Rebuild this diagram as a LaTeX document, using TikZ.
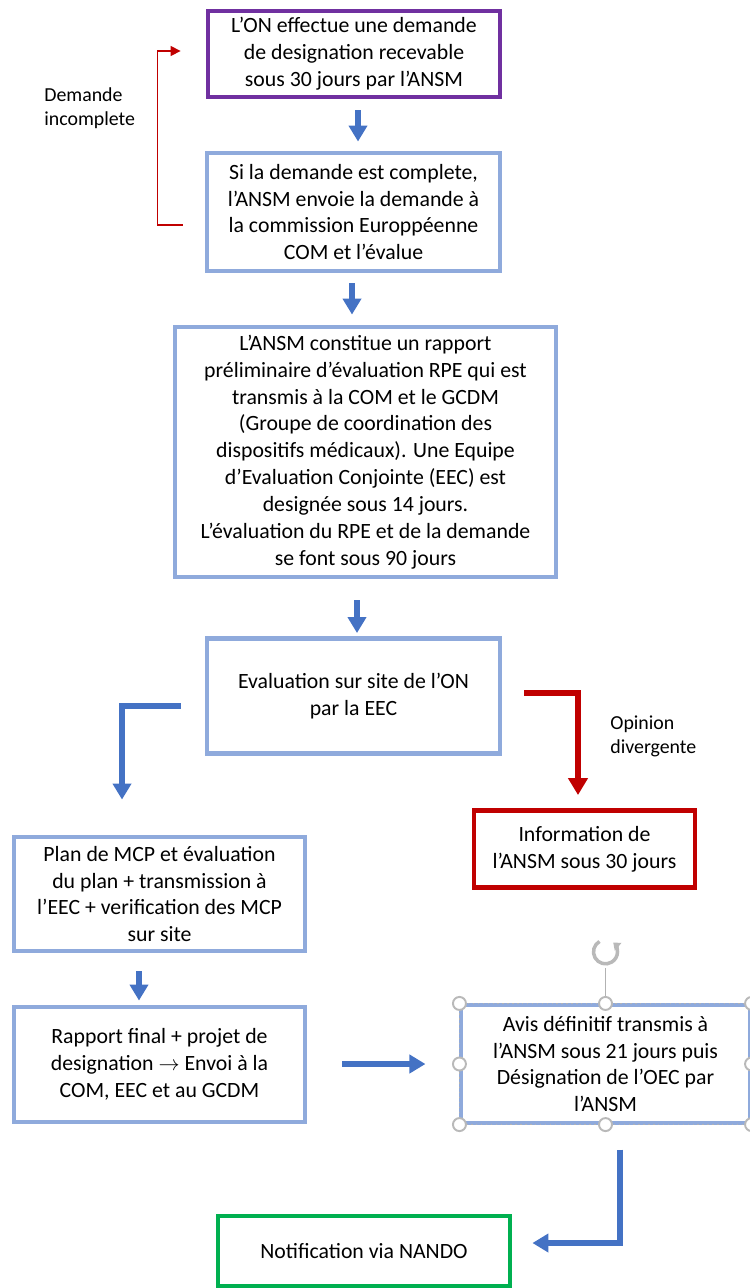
\documentclass[tikz,border=0pt]{standalone}
\usepackage{fontspec}
\setmainfont{Carlito}
\usepackage{xcolor}
\usepackage{tikz}
\usetikzlibrary{arrows.meta}

\definecolor{onpurple}{HTML}{7030A0}
\definecolor{boxblue}{HTML}{8FAADC}
\definecolor{arrowblue}{HTML}{4472C4}
\definecolor{alertred}{HTML}{C00000}
\definecolor{nandogreen}{HTML}{00B050}

\begin{document}
\begin{tikzpicture}[x=0.02cm, y=-0.02cm,
                box/.style={draw=boxblue, rectangle, line width=2.8pt, align=center, inner sep=0pt,
                    font=\fontsize{12.4}{15.3}\selectfont},
                note/.style={align=left, inner sep=0pt, font=\fontsize{11.3}{13.6}\selectfont},
                bluearrow/.style={draw=arrowblue, line width=3pt, -{Triangle[width=0.36cm,length=0.32cm]}},
                redarrow/.style={draw=alertred, line width=3.2pt, -{Triangle[width=0.38cm,length=0.34cm]}},
                handle/.style={circle, draw=gray!55, fill=white, line width=1.1pt, minimum size=0.26cm, inner sep=0pt}]
                \useasboundingbox (0,0) rectangle (750,1288);
                \node[box, draw=onpurple, minimum width=5.84cm, minimum height=1.72cm] (demande) at (354,54)
                    {L’ON effectue une demande\\de designation recevable\\sous 30 jours par l’ANSM};
                \node[box, minimum width=5.86cm, minimum height=2.36cm] (complete) at (353.5,212)
                    {Si la demande est complete,\\l’ANSM envoie la demande à\\la commission Europpéenne\\COM et l’évalue};
                \node[box, minimum width=7.62cm, minimum height=5cm] (rapport) at (365.5,452)
                    {L’ANSM constitue un rapport\\préliminaire d’évaluation RPE qui est\\transmis à la COM et le GCDM\\(Groupe de coordination des\\dispositifs médicaux). Une Equipe\\d’Evaluation Conjointe (EEC) est\\designée sous 14 jours.\\L’évaluation du RPE et de la demande\\se font sous 90 jours};
                \node[box, minimum width=5.86cm, minimum height=2.3cm] (site) at (353.5,696)
                    {Evaluation sur site de l’ON\\par la EEC};
                \node[box, draw=alertred, minimum width=4.42cm, minimum height=1.54cm] (info) at (584.5,849)
                    {Information de\\l’ANSM sous 30 jours};
                \node[box, minimum width=5.82cm, minimum height=2.28cm] (mcp) at (159.5,894)
                    {Plan de MCP et évaluation\\du plan + transmission à\\l’EEC + verification des MCP\\sur site};
                \node[box, minimum width=5.82cm, minimum height=2.3cm] (final) at (159.5,1064.5)
                    {Rapport final + projet de\\designation $\rightarrow$ Envoi à la\\COM, EEC et au GCDM};
                \node[box, line width=1.8pt, minimum width=5.78cm, minimum height=2.36cm] (avis) at (605.5,1064)
                    {Avis définitif transmis à\\l’ANSM sous 21 jours puis\\Désignation de l’OEC par\\l’ANSM};
                \node[box, draw=nandogreen, minimum width=5.84cm, minimum height=1.4cm] (nando) at (364,1251)
                    {Notification via NANDO};

                % labels
                \node[note, anchor=west] (incomplete) at (44,108) {Demande\\incomplete};
                \node[note, anchor=west] (divergente) at (610,736) {Opinion\\divergente};

                % connectors
                \draw[draw=alertred, line width=0.9pt, -{Triangle[width=0.2cm,length=0.2cm]}]
                    (complete.west) ++(-22,13) -- ++(-25,0) |- ([xshift=-0.5cm,yshift=0.06cm]demande.west);
                \draw[bluearrow, shorten <=0.22cm, shorten >=0.18cm] (demande.south -| 358,0) -- (complete.north -| 358,0);
                \draw[bluearrow, shorten <=0.2cm, shorten >=0.2cm] (complete.south -| 352,0) -- (rapport.north -| 352,0);
                \draw[bluearrow, shorten <=0.42cm, shorten >=0.06cm] (rapport.south -| 357,0) -- (site.north -| 357,0);
                \draw[redarrow, shorten <=0.44cm, shorten >=0.26cm] (site.east |- 0,693) -| (info.north -| 578,0);
                \draw[bluearrow] ([xshift=-0.48cm,yshift=-0.2cm]site.west) -| ([xshift=-0.75cm,yshift=0.7cm]mcp.north);
                \draw[bluearrow, shorten <=0.36cm, shorten >=0.08cm] (mcp.south -| 139,0) -- (final.north -| 139,0);
                \draw[bluearrow, shorten <=0.7cm, shorten >=0.68cm] (final.east |- 0,1064) -- (avis.west |- 0,1064);
                \draw[bluearrow, shorten <=0.5cm, shorten >=0.4cm] (avis.south -| 620,0) |- (nando.east |- 0,1243);

                % selection handles
                \draw[gray!60, line width=0.8pt, dotted] (avis.north west) rectangle (avis.south east);
                \draw[gray!60, line width=0.8pt] (avis.north) -- ++(0,-35);
                \draw[gray!55, line width=2pt, -{Triangle[width=0.2cm,length=0.13cm]}]
                    (avis.north) ++(-6,-62) arc[start angle=120, end angle=410, radius=0.24cm];
                \foreach \hp in {north west, north, north east, west, east, south west, south, south east}
                    \node[handle] at (avis.\hp) {};
\end{tikzpicture}
\end{document}
